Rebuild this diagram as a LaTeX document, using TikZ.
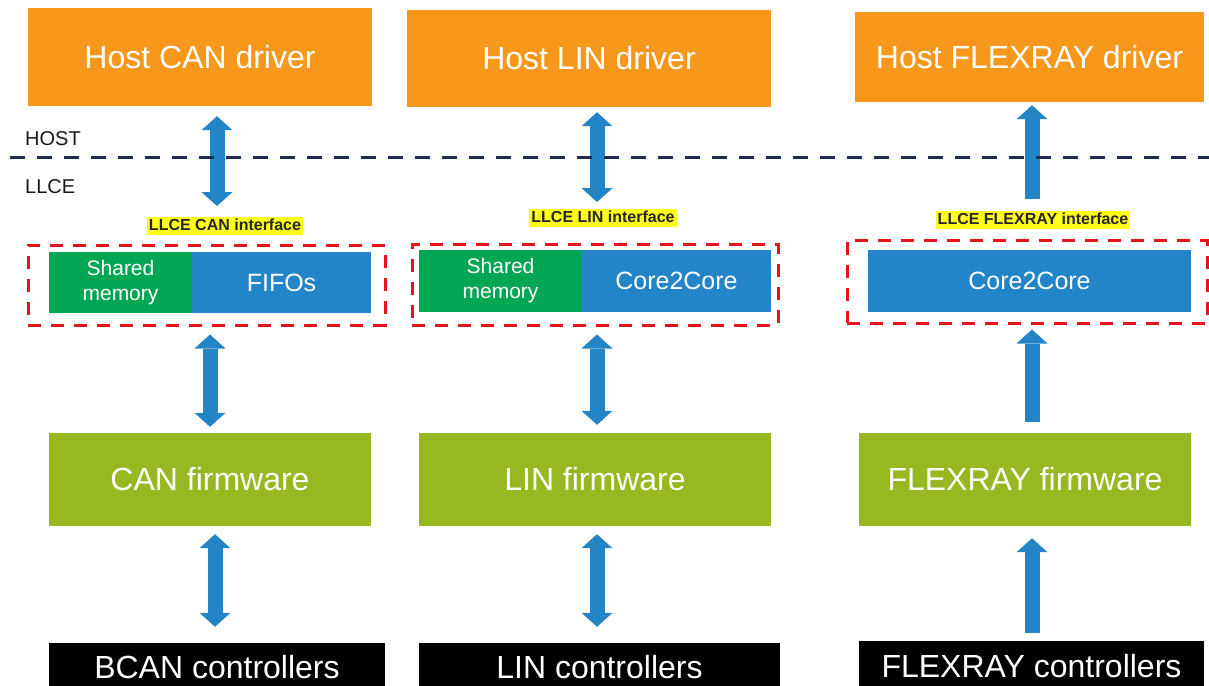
\documentclass[tikz,border=0pt]{standalone}
\usepackage{fontspec}
\setmainfont{Liberation Sans}
\usetikzlibrary{arrows.meta}

\definecolor{hostorange}{HTML}{F7981D}
\definecolor{ifblue}{HTML}{2385C7}
\definecolor{memgreen}{HTML}{00A651}
\definecolor{fwgreen}{HTML}{97B820}
\definecolor{arrowblue}{HTML}{2384C6}
\definecolor{divnavy}{HTML}{1C2B50}
\definecolor{groupred}{HTML}{E8141B}
\definecolor{hilite}{HTML}{FFFF1A}

\tikzset{
  block/.style={rectangle, inner sep=0pt, text=white, align=center,
    font=\fontsize{32}{36}\selectfont},
  hostbox/.style={block, fill=hostorange},
  fwbox/.style={block, fill=fwgreen},
  ctrlbox/.style={block, fill=black},
  c2cbox/.style={block, fill=ifblue, font=\fontsize{25}{28}\selectfont},
  membox/.style={block, fill=memgreen, font=\fontsize{21}{25}\selectfont},
  group/.style={rectangle, inner sep=0pt, draw=groupred, line width=3pt,
    dash pattern=on 13pt off 10pt},
  iflabel/.style={fill=hilite, text=black!85, inner xsep=2pt, inner ysep=1pt,
    text height=12pt, text depth=3.5pt, font=\bfseries\fontsize{16}{18}\selectfont},
  layer/.style={anchor=west, text=black!90, inner sep=0pt,
    font=\fontsize{20}{22}\selectfont},
  bothway/.style={draw=arrowblue, line width=15pt, {Triangle[width=31pt,length=14pt,line width=0pt]}-{Triangle[width=31pt,length=14pt,line width=0pt]}},
  oneway/.style={draw=arrowblue, line width=15pt, -{Triangle[width=31pt,length=14pt,line width=0pt]}},
  divider/.style={draw=divnavy, line width=3pt, dash pattern=on 15pt off 12pt}
}

\begin{document}
\begin{tikzpicture}[x=1pt,y=-1pt]
\clip (0,0) rectangle (1209,685);
\fill[white] (0,0) rectangle (1209,685);

% ---- CAN column ----
\node[hostbox, minimum width=344pt, minimum height=98pt] (hostcan) at (200,57) {Host CAN driver};
\node[iflabel] (canif) at (225,226) {LLCE CAN interface};
\node[group, minimum width=357pt, minimum height=80pt] (grpcan) at (206.5,285) {};
\node[membox, minimum width=143pt, minimum height=61pt] (memcan) at (120.5,282.5) {Shared\\memory};
\node[c2cbox, minimum width=179pt, minimum height=61pt] (fifocan) at (281.5,282.5) {FIFOs};
\node[fwbox, minimum width=322pt, minimum height=93pt] (fwcan) at (210,479.5) {CAN firmware};
\node[ctrlbox, minimum width=336pt, minimum height=48pt] (ctrlcan) at (217,667) {BCAN controllers};

% ---- LIN column ----
\node[hostbox, minimum width=364pt, minimum height=97pt] (hostlin) at (589,58.5) {Host LIN driver};
\node[iflabel] (linif) at (603,218) {LLCE LIN interface};
\node[group, minimum width=366pt, minimum height=81pt] (grplin) at (595,284.5) {};
\node[membox, minimum width=163pt, minimum height=62pt] (memlin) at (500.5,281) {Shared\\memory};
\node[c2cbox, minimum width=189pt, minimum height=62pt] (c2clin) at (676.5,281) {Core2Core};
\node[fwbox, minimum width=352pt, minimum height=93pt] (fwlin) at (595,479.5) {LIN firmware};
\node[ctrlbox, minimum width=361pt, minimum height=48pt] (ctrllin) at (599.5,667) {LIN controllers};

% ---- FLEXRAY column ----
\node[hostbox, minimum width=349pt, minimum height=90pt] (hostfr) at (1029.5,57) {Host FLEXRAY driver};
\node[iflabel] (frif) at (1033,220) {LLCE FLEXRAY interface};
\node[group, minimum width=360pt, minimum height=83pt] (grpfr) at (1027,281.5) {};
\node[c2cbox, minimum width=323pt, minimum height=62pt] (c2cfr) at (1029.5,281) {Core2Core};
\node[fwbox, minimum width=332pt, minimum height=93pt] (fwfr) at (1025,479.5) {FLEXRAY firmware};
\node[ctrlbox, minimum width=345pt, minimum height=50pt] (ctrlfr) at (1031.5,666) {FLEXRAY controllers};

% arrow axes
\coordinate (axA) at (217,0);
\coordinate (axB) at (210,0);
\coordinate (axC) at (215,0);
\coordinate (axL) at (597,0);
\coordinate (axF) at (1032,0);

% ---- connectors ----
\draw[bothway, shorten <=10pt, shorten >=11pt] (hostcan.south -| axA) -- (canif.north -| axA);
\draw[bothway, shorten <=8pt, shorten >=6pt] (grpcan.south -| axB) -- (fwcan.north -| axB);
\draw[bothway, shorten <=8pt, shorten >=16pt] (fwcan.south -| axC) -- (ctrlcan.north -| axC);

\draw[bothway, shorten <=5pt, shorten >=7pt] (hostlin.south -| axL) -- (linif.north -| axL);
\draw[bothway, shorten <=8pt, shorten >=8pt] (grplin.south -| axL) -- (fwlin.north -| axL);
\draw[bothway, shorten <=8pt, shorten >=16pt] (fwlin.south -| axL) -- (ctrllin.north -| axL);

\draw[oneway, shorten <=12pt, shorten >=3pt] (frif.north -| axF) -- (hostfr.south -| axF);
\draw[oneway, shorten <=11pt, shorten >=5pt] (fwfr.north -| axF) -- (grpfr.south -| axF);
\draw[oneway, shorten <=8pt, shorten >=12pt] (ctrlfr.north -| axF) -- (fwfr.south -| axF);

% ---- host / LLCE boundary ----
\coordinate (divL) at (10,157);
\coordinate (divR) at (1209,157);
\draw[divider] (divL) -- (divR);
\node[layer] (hostlbl) at (25,139) {HOST};
\node[layer] (llcelbl) at (25,187) {LLCE};
\end{tikzpicture}
\end{document}
